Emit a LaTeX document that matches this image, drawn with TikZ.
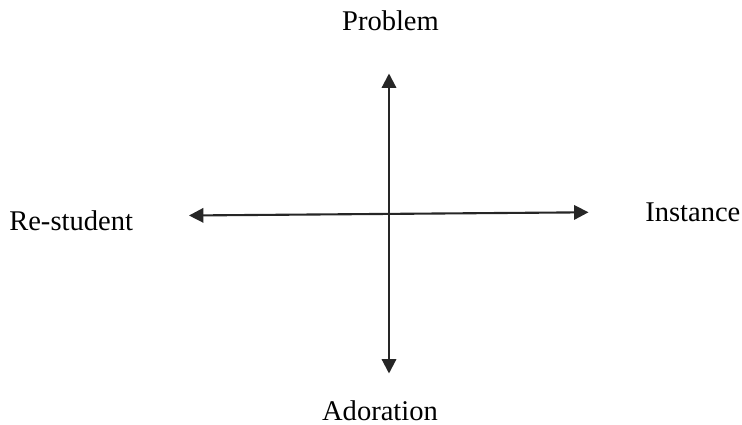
\documentclass[tikz,border=0pt]{standalone}
\usepackage{fontspec}
\setmainfont{Liberation Serif}
\usepackage{tikz}
\usetikzlibrary{arrows.meta,positioning}

\begin{document}
\begin{tikzpicture}[x=0.025cm,y=-0.025cm,
  lbl/.style={inner sep=0pt,anchor=base,font=\fontsize{20.3}{24}\selectfont},
  axis/.style={{Triangle[length=0.36cm,width=0.36cm]}-{Triangle[length=0.36cm,width=0.36cm]},line width=1.5pt,black!85},
]
\useasboundingbox (0,0) rectangle (742,425);
\node[lbl] (problem) at (390.5,30.7) {Problem};
\node[lbl] (adoration) at (380,420) {Adoration};
\node[lbl,anchor=base west] (restudent) at (9,231) {Re-student};
\node[lbl,anchor=base west] (instance) at (645,221.7) {Instance};
\coordinate (top) at (389,73.5);
\coordinate (bottom) at (389,373.5);
\coordinate (left) at (189,215.5);
\coordinate (right) at (588.5,212.3);
\draw[axis] (top) -- (bottom);
\draw[axis] (left) -- (right);
\end{tikzpicture}
\end{document}
